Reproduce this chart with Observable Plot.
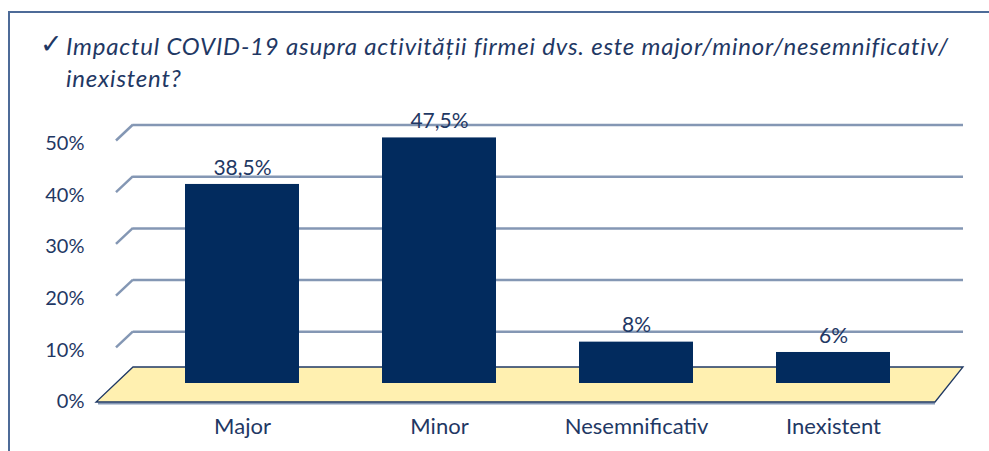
<!DOCTYPE html>
<html>
<head>
<meta charset="utf-8">
<script src="https://cdn.jsdelivr.net/npm/d3@7"></script>
<script src="https://cdn.jsdelivr.net/npm/@observablehq/plot@0.6"></script>
<style>
  html, body { margin: 0; padding: 0; background: #fff; overflow: hidden; }
  body { width: 989px; height: 451px; position: relative; }
  .hline { position: absolute; left: 8px; top: 11px; width: 981px; height: 2px; background: #4d6b98; }
  .vline { position: absolute; left: 8px; top: 11px; width: 2px; height: 440px; background: #4d6b98; }
  #check { position: absolute; left: 40px; top: 28px; font-family: "DejaVu Sans"; font-size: 27px;
           line-height: 32px; color: #1f3864; }
  #title { position: absolute; left: 66px; top: 29.7px; font-family: Lato; font-style: italic;
           font-size: 24px; letter-spacing: 0.8px; line-height: 32px; color: #1f3864; white-space: nowrap; }
  #chart { position: absolute; left: 0; top: 100px; }
</style>
</head>
<body>
<div class="hline"></div>
<div class="vline"></div>
<div id="check">✓</div>
<div id="title">Impactul COVID-19 asupra activității firmei dvs. este major/minor/nesemnificativ/<br>inexistent?</div>
<div id="chart"></div>
<script>
const categories = ["Major", "Minor", "Nesemnificativ", "Inexistent"];
const values = [38.5, 47.5, 8, 6];
const valueLabels = ["38,5%", "47,5%", "8%", "6%"];
const yTicks = [0, 10, 20, 30, 40, 50];
const gridTicks = [10, 20, 30, 40, 50];

const data = categories.map((c, i) => ({cat: c, value: values[i], label: valueLabels[i]}));

const ink = "#1f3864";
const gridColor = "#8497b4";

// decorative 3D floor and side-wall ticks, positioned through Plot's scales
function decor(index, scales, channels, dims) {
  const y = scales.y;
  const L = dims.marginLeft, R = dims.width - dims.marginRight;
  const y0 = y(0);
  const g = d3.create("svg:g");
  for (const v of gridTicks) {
    g.append("line")
      .attr("x1", L - 17).attr("y1", y(v) + 16)
      .attr("x2", L).attr("y2", y(v))
      .attr("stroke", gridColor).attr("stroke-width", 2.5);
  }
  g.append("line")
    .attr("x1", L - 35).attr("y1", y0 + 20.5)
    .attr("x2", R - 28).attr("y2", y0 + 20.5)
    .attr("stroke", gridColor).attr("stroke-width", 2);
  g.append("polygon")
    .attr("points", [[L, y0 - 16], [R, y0 - 16], [R - 28, y0 + 19], [L - 37, y0 + 19]].map(p => p.join(",")).join(" "))
    .attr("fill", "#fff0b0").attr("stroke", ink).attr("stroke-width", 1.3).attr("stroke-linejoin", "miter");
  return g.node();
}

const chart = Plot.plot({
  width: 989,
  height: 351,
  marginLeft: 133,
  marginRight: 26,
  marginTop: 20,
  marginBottom: 68,
  style: {fontFamily: "Lato", fontSize: "20px", color: ink, background: "transparent"},
  x: {domain: categories, range: [184, 890], paddingInner: 0.422, paddingOuter: 0, label: null},
  y: {domain: [0, 50], range: [283, 24.5], label: null},
  marks: [
    Plot.ruleY(gridTicks, {stroke: gridColor, strokeWidth: 2.5, strokeOpacity: 1}),
    decor,
    Plot.barY(data, {x: "cat", y: "value", fill: "#022b5e"}),
    Plot.text(data, {x: "cat", y: "value", text: "label", dy: -16.5, fill: ink, fontSize: 21}),
    Plot.axisY({ticks: yTicks, tickFormat: d => d + "%", tickSize: 0, tickPadding: 49, dy: 18.5, fill: ink, fontSize: 20, label: null}),
    Plot.axisX({tickSize: 0, tickPadding: 35, fill: ink, fontSize: 22, label: null})
  ]
});
document.getElementById("chart").appendChild(chart);
</script>
</body>
</html>
